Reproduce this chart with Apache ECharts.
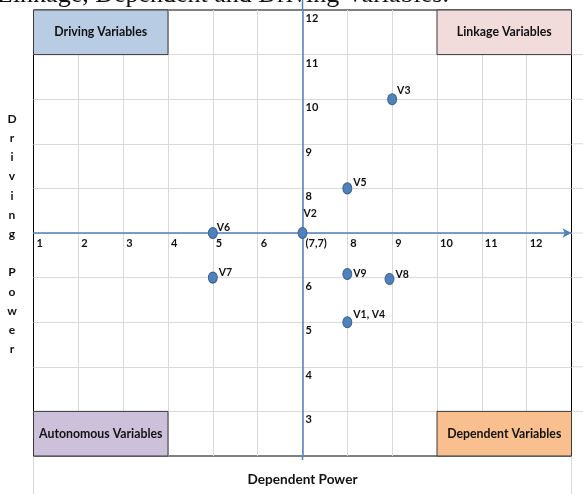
<!DOCTYPE html>
<html><head><meta charset="utf-8">
<script src="https://cdn.jsdelivr.net/npm/echarts@6/dist/echarts.min.js"></script>
<style>html,body{margin:0;padding:0;background:#fff}#c{width:583px;height:494px}</style>
</head><body><div id="c"></div>
<script>
// ---- data ----
const pointNames = ['V3', 'V5', 'V2', 'V6', 'V7', 'V9', 'V8', 'V1, V4'];
const dependencePower = [9, 8, 7, 5, 5, 8, 8.94, 8];
const drivingPower = [10, 8, 7, 7, 6, 6.08, 5.97, 5];

const xTickLabels = ['1','2','3','4','5','6','(7,7)','8','9','10','11','12',''];      // values 1..13
const yTickLabels = ['','3','4','5','6','','8','9','10','11','12'];                      // values 2..12

const quadrantNames = ['Driving Variables', 'Linkage Variables', 'Autonomous Variables', 'Dependent Variables'];
const quadrantXRange = [[1, 4], [10, 13], [1, 4], [10, 13]];
const quadrantYRange = [[11, 12], [11, 12], [2, 3], [2, 3]];

const xTitle = 'Dependent Power';
const yTitle = 'Driving Power';
const caption = 'Linkage, Dependent and Driving Variables.';

// ---- style ----
const FONT = 'Lato';
const quadrantColors = ['#B8CCE4', '#F2DCDB', '#CCC0DA', '#FABF8F'];
const labelNudge = { 'V2': [-5, -19], 'V9': [0, 0], 'V8': [0, -4], 'V7': [0, -5], 'V1, V4': [0, -8], 'V3': [-1, -9], 'V5': [0, -6], 'V6': [-2, -5] };
const X_MIN = 1, X_MAX = 13, Y_MIN = 2, Y_MAX = 12, CROSS_X = 7, CROSS_Y = 7;
const G = { left: 33.5, right: 11.5, top: 10, bottom: 38 };
const W = 583, H = 494;
const gridW = W - G.left - G.right, gridH = H - G.top - G.bottom;
const TXT = '#111111';

const chart = echarts.init(document.getElementById('c'), null, { renderer: 'canvas' });

const scatterData = pointNames.map((n, i) => ({
  name: n,
  value: [dependencePower[i], drivingPower[i]],
  label: { offset: labelNudge[n] || [0, -6] }
}));

const areas = quadrantNames.map((n, i) => ([
  { name: n, xAxis: quadrantXRange[i][0], yAxis: quadrantYRange[i][0],
    itemStyle: { color: quadrantColors[i], borderColor: '#3a3a3a', borderWidth: 1, opacity: 1 } },
  { xAxis: quadrantXRange[i][1], yAxis: quadrantYRange[i][1] }
]));

const option = {
  animation: false,
  backgroundColor: '#fff',
  grid: { left: G.left, right: G.right, top: G.top, bottom: G.bottom, show: true, borderColor: '#000', borderWidth: 1, backgroundColor: 'transparent' },
  xAxis: {
    type: 'value', min: X_MIN, max: X_MAX, interval: 1,
    offset: -(CROSS_Y - Y_MIN) / (Y_MAX - Y_MIN) * gridH,
    axisLine: { show: true, symbol: ['none', 'arrow'], symbolSize: [7, 9], lineStyle: { color: '#4F81BD', width: 1.5 } },
    axisTick: { show: false },
    axisLabel: {
      formatter: v => xTickLabels[Math.round(v) - X_MIN] || '',
      align: 'left', margin: 5, padding: [0, 0, 0, 3],
      fontFamily: FONT, fontWeight: 'bold', fontSize: 11, color: TXT
    },
    splitLine: { show: true, showMinLine: false, showMaxLine: false, lineStyle: { color: '#D9D9D9', width: 1 } }
  },
  yAxis: {
    type: 'value', min: Y_MIN, max: Y_MAX, interval: 1,
    offset: -(CROSS_X - X_MIN) / (X_MAX - X_MIN) * gridW,
    axisLine: { show: true, lineStyle: { color: '#4F81BD', width: 1.5 } },
    axisTick: { show: false },
    axisLabel: {
      inside: true, formatter: v => yTickLabels[Math.round(v) - Y_MIN] || '',
      align: 'left', verticalAlign: 'top', margin: 3, padding: [3, 0, 0, 0],
      fontFamily: FONT, fontWeight: 'bold', fontSize: 11, color: TXT
    },
    splitLine: { show: true, showMinLine: false, showMaxLine: false, lineStyle: { color: '#D9D9D9', width: 1 } }
  },
  series: [{
    type: 'scatter',
    symbol: 'circle',
    symbolSize: [9, 11],
    itemStyle: { color: '#4F81BD', borderColor: '#385D8A', borderWidth: 1, opacity: 1 },
    label: {
      show: true, formatter: p => p.name, position: 'right', distance: 1,
      fontFamily: FONT, fontWeight: 'bold', fontSize: 10.5, color: TXT
    },
    data: scatterData,
    markArea: {
      silent: true,
      label: { show: true, position: 'inside', fontFamily: FONT, fontWeight: 'bold', fontSize: 12.3, color: TXT },
      data: areas
    },
    z: 5
  }]
};
chart.setOption(option);

// decorative extras positioned through the chart's own scales
const px = (x, y) => chart.convertToPixel({ gridIndex: 0 }, [x, y]);
const gfx = [];
const topLeft = px(X_MIN, Y_MAX), botRight = px(X_MAX, Y_MIN), cross = px(CROSS_X, CROSS_Y);
// spreadsheet cell lines outside the chart
for (let y = Y_MIN + 1; y < Y_MAX; y++) {
  const p = px(X_MAX, y);
  gfx.push({ type: 'line', shape: { x1: p[0] + 1, y1: p[1], x2: W, y2: p[1] }, style: { stroke: '#D9D9D9', lineWidth: 1 }, z: 0 });
}
[X_MIN, X_MAX].forEach(x => {
  const p = px(x, Y_MIN);
  gfx.push({ type: 'line', shape: { x1: p[0], y1: p[1] + 1, x2: p[0], y2: H }, style: { stroke: '#D9D9D9', lineWidth: 1 }, z: 0 });
});
// vertical axis overshoot
gfx.push({ type: 'line', shape: { x1: cross[0], y1: 0, x2: cross[0], y2: topLeft[1] }, style: { stroke: '#4F81BD', lineWidth: 1.5 }, z: 10 });
gfx.push({ type: 'line', shape: { x1: cross[0], y1: botRight[1], x2: cross[0], y2: botRight[1] + 4 }, style: { stroke: '#4F81BD', lineWidth: 1.5 }, z: 10 });
// axis titles
gfx.push({ type: 'text', style: { text: xTitle, x: cross[0], y: H - 14, textAlign: 'center', verticalAlign: 'middle', font: 'bold 13.6px ' + FONT, fill: TXT }, z: 10 });
const stacked = yTitle.split('').map(c => (c === ' ' ? '' : c)).join('\n');
gfx.push({ type: 'text', style: { text: stacked, x: 12, y: 119 - 9.6, textAlign: 'center', verticalAlign: 'top', font: 'bold 12px ' + FONT, lineHeight: 19.2, fill: TXT }, z: 10 });
// clipped caption above the chart
gfx.push({ type: 'text', style: { text: caption, x: -3, y: -5.3, textAlign: 'left', verticalAlign: 'middle', font: '26px "Liberation Serif"', fill: '#111' }, z: 10 });
chart.setOption({ graphic: { elements: gfx } });
</script></body></html>
